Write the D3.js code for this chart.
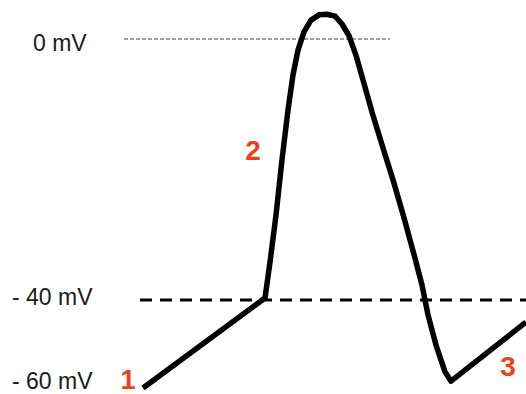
<!DOCTYPE html>
<html>
<head>
<meta charset="utf-8">
<script src="https://cdn.jsdelivr.net/npm/d3@7"></script>
<style>
html,body{margin:0;padding:0;background:#fff;}
svg{display:block;}
</style>
</head>
<body>
<svg id="chart" width="526" height="394"></svg>
<script>
// Time (arbitrary units) and membrane potential (mV)
const time = [0, 122, 127, 133, 139, 145, 150, 155, 161, 168, 176, 184, 192, 199, 206, 213, 220, 229, 239, 250, 261, 272, 279, 285, 293, 302, 308, 383];
const voltage = [-60.7, -39.7, -34.2, -27.0, -18.5, -10.9, -5.5, -1.7, 1.1, 2.9, 3.7, 3.8, 3.5, 2.3, 0.5, -2.5, -6.3, -11.2, -16.2, -21.6, -27.4, -33.6, -37.7, -43.5, -50.6, -56.9, -59.1, -45.2];
const tickValues = [0, -40, -60];
const tickLabels = ["0 mV", "- 40 mV", "- 60 mV"];
const phaseLabels = ["1", "2", "3"];
const phaseTime = [-15, 110, 365];
const phaseVoltage = [-60.9, -18.5, -57.9];

const svg = d3.select("#chart");
const x = d3.scaleLinear().domain([0, 383]).range([143, 526]);
const y = d3.scaleLinear().domain([-60, -40, 0]).range([385, 300, 39]);

// 0 mV thin dotted reference
svg.append("line")
  .attr("x1", 124).attr("x2", 390)
  .attr("y1", y(0)).attr("y2", y(0))
  .attr("stroke", "#444").attr("stroke-width", 1)
  .attr("stroke-dasharray", "4,2");

// -40 mV threshold dashed line
svg.append("line")
  .attr("x1", 140).attr("x2", 526)
  .attr("y1", y(-40)).attr("y2", y(-40))
  .attr("stroke", "#000").attr("stroke-width", 3)
  .attr("stroke-dasharray", "12,8");

// tick labels
const tickX = [33, 12, 12];
const tickDy = [12, 5, 4];
svg.selectAll("text.tick").data(tickValues).enter().append("text")
  .attr("class", "tick")
  .attr("x", (d, i) => tickX[i])
  .attr("y", (d, i) => y(d) + tickDy[i])
  .attr("font-family", "Liberation Sans, Arial, sans-serif")
  .attr("font-size", 23)
  .attr("fill", "#1a1a1a")
  .text((d, i) => tickLabels[i]);

// action potential trace
const line = d3.line()
  .x((d, i) => x(time[i]))
  .y((d) => y(d));
svg.append("path")
  .datum(voltage)
  .attr("d", line)
  .attr("fill", "none")
  .attr("stroke", "#000")
  .attr("stroke-width", 5.5)
  .attr("stroke-linejoin", "round")
  .attr("stroke-linecap", "butt");

// phase numbers
svg.selectAll("text.phase").data(phaseLabels).enter().append("text")
  .attr("class", "phase")
  .attr("x", (d, i) => x(phaseTime[i]))
  .attr("y", (d, i) => y(phaseVoltage[i]))
  .attr("text-anchor", "middle")
  .attr("font-family", "Liberation Sans, Arial, sans-serif")
  .attr("font-weight", "bold")
  .attr("font-size", (d, i) => i === 0 ? 27 : 28)
  .attr("fill", "#e8431c")
  .text(d => d);
</script>
</body>
</html>
